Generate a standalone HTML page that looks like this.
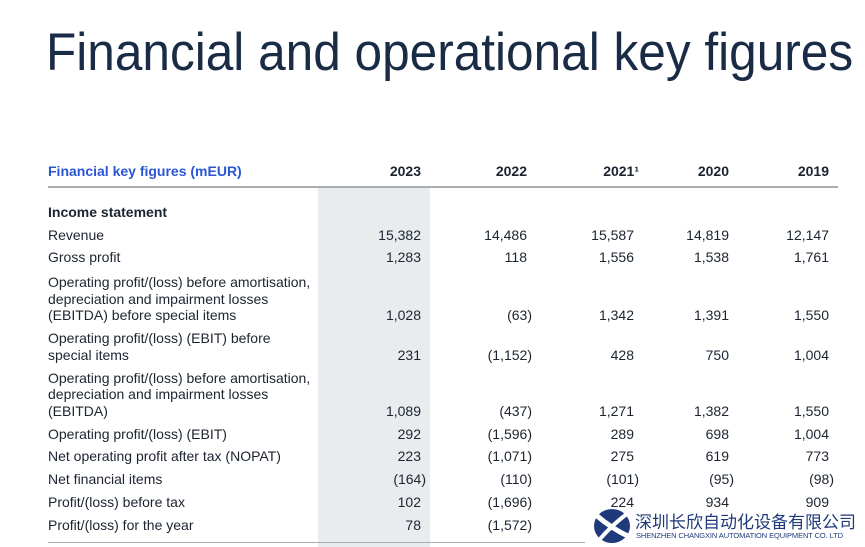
<!DOCTYPE html>
<html><head><meta charset="utf-8">
<style>
body{margin:0;width:865px;height:547px;background:#fff;position:relative;overflow:hidden;font-family:"Liberation Sans","Noto Sans CJK SC",sans-serif;color:#1c2430}
.t{position:absolute;left:46px;top:23px;font-size:53px;color:#1a2b45;white-space:nowrap;transform:scaleX(0.935);transform-origin:left top;line-height:60px;font-weight:300}
.a{position:absolute;font-size:14px;line-height:18px;white-space:nowrap}
.r{position:absolute;font-size:14px;line-height:18px;white-space:nowrap;text-align:right;width:100px}
.b{font-weight:bold}
</style></head><body>
<div class="t">Financial and operational key figures</div>
<div style="position:absolute;left:318px;top:188px;width:112px;height:359px;background:#e9ecef"></div>
<div style="position:absolute;left:48px;top:186px;width:790px;height:2px;background:#a9adb2"></div>
<div style="position:absolute;left:48px;top:542px;width:550px;height:1px;background:#a9adb2"></div>
<div class="a b" style="left:48px;top:162px;color:#2a55d6">Financial key figures (mEUR)</div>
<div id="rows"></div>
<script>
var cols=[421,527,634,729,829];
var hdr=["2023","2022","2021¹","2020","2019"];
var h='';
hdr.forEach(function(t,i){var rr=cols[i]+(i==2?5:0);h+='<div class="r b" style="left:'+(rr-100)+'px;top:162px">'+t+'</div>';});
h+='<div class="a b" style="left:48px;top:203px">Income statement</div>';
var rows=[
[[235],["Revenue"],["15,382","14,486","15,587","14,819","12,147"]],
[[257],["Gross profit"],["1,283","118","1,556","1,538","1,761"]],
[[282,299,315],["Operating profit/(loss) before amortisation,","depreciation and impairment losses","(EBITDA) before special items"],["1,028","(63)","1,342","1,391","1,550"]],
[[338,355],["Operating profit/(loss) (EBIT) before","special items"],["231","(1,152)","428","750","1,004"]],
[[378,394,411],["Operating profit/(loss) before amortisation,","depreciation and impairment losses","(EBITDA)"],["1,089","(437)","1,271","1,382","1,550"]],
[[434],["Operating profit/(loss) (EBIT)"],["292","(1,596)","289","698","1,004"]],
[[456],["Net operating profit after tax (NOPAT)"],["223","(1,071)","275","619","773"]],
[[479],["Net financial items"],["(164)","(110)","(101)","(95)","(98)"]],
[[502],["Profit/(loss) before tax"],["102","(1,696)","224","934","909"]],
[[525],["Profit/(loss) for the year"],["78","(1,572)","","",""]]
];
rows.forEach(function(r){
 r[0].forEach(function(y,k){h+='<div class="a" style="left:48px;top:'+(y-9)+'px">'+r[1][k]+'</div>';});
 var y=r[0][r[0].length-1];
 r[2].forEach(function(v,i){if(!v)return;var rr=cols[i]+(v[0]=='('?5:0);h+='<div class="r" style="left:'+(rr-100)+'px;top:'+(y-9)+'px">'+v+'</div>';});
});
document.getElementById('rows').innerHTML=h;
</script>
<div style="position:absolute;left:585px;top:511px;width:280px;height:36px;background:#fff"></div>
<svg style="position:absolute;left:592px;top:507px" width="40" height="38" viewBox="0 0 40 38">
<ellipse cx="20" cy="19" rx="18" ry="17" fill="#1f3a7a"/>
<path d="M4 8 Q20 22 38 30" stroke="#fff" stroke-width="5" fill="none"/>
<path d="M8 32 Q20 18 36 6" stroke="#fff" stroke-width="4" fill="none"/>
</svg>
<div class="a" style="left:635px;top:510px;font-size:17px;line-height:21px;color:#1f3a7a;font-family:'Noto Sans CJK SC',sans-serif">深圳长欣自动化设备有限公司</div>
<div class="a" style="left:636px;top:531px;font-size:7.5px;line-height:9px;color:#1f3a7a;letter-spacing:-0.1px">SHENZHEN CHANGXIN AUTOMATION EQUIPMENT CO. LTD</div>
</body></html>
